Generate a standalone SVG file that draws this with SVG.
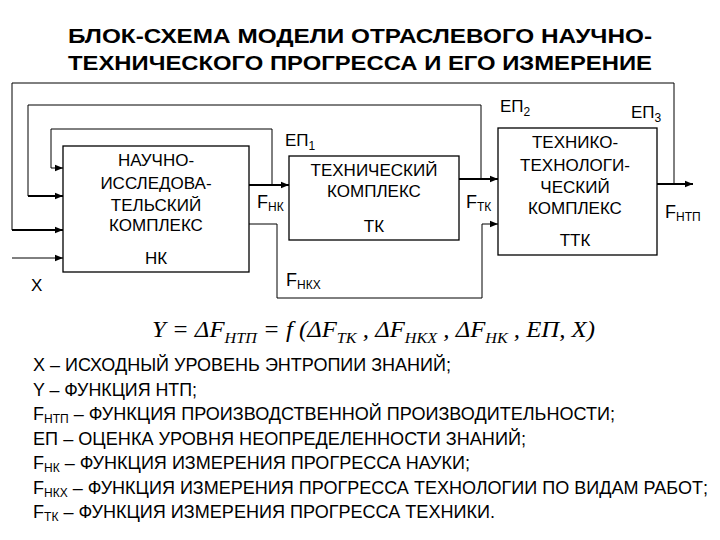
<svg xmlns="http://www.w3.org/2000/svg" width="720" height="540" viewBox="0 0 720 540">
<defs>
<marker id="ah" viewBox="0 0 10 10" refX="10" refY="5" markerWidth="8" markerHeight="8" markerUnits="userSpaceOnUse" orient="auto">
<path d="M0,1 L10,5 L0,9 z" fill="#000"/>
</marker>
<style>
.t{font-family:"Liberation Sans",Arial,sans-serif;fill:#000}
.title{font-size:21px;font-weight:bold}
.box{fill:#fff;stroke:#000;stroke-width:1.3}
.bt{font-size:17px;text-anchor:middle}
.lab{font-size:17px}
.sub{font-size:12px}
.leg{font-size:18px}
.lsub{font-size:12px}
.fm{font-family:"Liberation Serif","Times New Roman",serif;font-style:italic;font-size:23px;fill:#000}
.fs{font-size:15px}
.c1{fill:none;stroke:#000;stroke-width:1}
.c2{fill:none;stroke:#000;stroke-width:2}
</style>
</defs>
<rect width="720" height="540" fill="#fff"/>
<g id="title">
<text class="t title" x="360" y="43" text-anchor="middle" textLength="584" lengthAdjust="spacingAndGlyphs">БЛОК-СХЕМА МОДЕЛИ ОТРАСЛЕВОГО НАУЧНО-</text>
<text class="t title" x="360" y="70" text-anchor="middle" textLength="584" lengthAdjust="spacingAndGlyphs">ТЕХНИЧЕСКОГО ПРОГРЕССА И ЕГО ИЗМЕРЕНИЕ</text>
</g>
<g id="connectors">
<polyline class="c1" points="674,184 674,83 12,83 12,230" />
<line class="c2" x1="12" y1="230" x2="63" y2="230" marker-end="url(#ah)"/>
<polyline class="c1" points="481,179 481,105 28,105 28,196"/>
<line class="c2" x1="28" y1="196" x2="63" y2="196" marker-end="url(#ah)"/>
<polyline class="c1" points="272,185 272,129 51,129 51,168 63,168" marker-end="url(#ah)"/>
<line class="c1" x1="12" y1="258" x2="63" y2="258" marker-end="url(#ah)"/>
<line class="c2" x1="249" y1="185" x2="289" y2="185" marker-end="url(#ah)"/>
<polyline class="c1" points="249,224 277,224 277,298 482,298 482,224 498,224" marker-end="url(#ah)"/>
<line class="c2" x1="459" y1="179" x2="498" y2="179" marker-end="url(#ah)"/>
<line class="c2" x1="657" y1="184" x2="693" y2="184" marker-end="url(#ah)"/>
</g>
<g id="nk">
<rect class="box" x="63" y="146" width="186" height="126"/>
<text class="t bt" x="156" y="166">НАУЧНО-</text>
<text class="t bt" x="156" y="189">ИССЛЕДОВА-</text>
<text class="t bt" x="156" y="211">ТЕЛЬСКИЙ</text>
<text class="t bt" x="156" y="231">КОМПЛЕКС</text>
<text class="t bt" x="156" y="264">НК</text>
</g>
<g id="tk">
<rect class="box" x="289" y="156" width="170" height="84"/>
<text class="t bt" x="374" y="176">ТЕХНИЧЕСКИЙ</text>
<text class="t bt" x="374" y="197">КОМПЛЕКС</text>
<text class="t bt" x="374" y="232">ТК</text>
</g>
<g id="ttk">
<rect class="box" x="498" y="128" width="159" height="127"/>
<text class="t bt" x="575" y="148">ТЕХНИКО-</text>
<text class="t bt" x="575" y="171">ТЕХНОЛОГИ-</text>
<text class="t bt" x="575" y="193">ЧЕСКИЙ</text>
<text class="t bt" x="575" y="214">КОМПЛЕКС</text>
<text class="t bt" x="575" y="246">ТТК</text>
</g>
<g id="labels">
<text class="t lab" x="285" y="146">ЕП<tspan class="sub" dy="4">1</tspan></text>
<text class="t lab" x="500" y="112">ЕП<tspan class="sub" dy="4">2</tspan></text>
<text class="t lab" x="631" y="118">ЕП<tspan class="sub" dy="4">3</tspan></text>
<text class="t lab" x="257" y="208" style="font-size:18px">F<tspan class="sub" dy="3">НК</tspan></text>
<text class="t lab" x="466" y="208" style="font-size:18px">F<tspan class="sub" dy="3">ТК</tspan></text>
<text class="t lab" x="665" y="218" style="font-size:18px">F<tspan class="sub" dy="3">НТП</tspan></text>
<text class="t lab" x="286" y="286" style="font-size:18px">F<tspan class="sub" dy="3">НКХ</tspan></text>
<text class="t lab" x="31" y="291">X</text>
</g>
<g id="formula">
<text class="fm" x="152" y="337" textLength="443" lengthAdjust="spacingAndGlyphs">Y = ΔF<tspan class="fs" dy="6">НТП</tspan><tspan dy="-6"> = f (ΔF</tspan><tspan class="fs" dy="6">ТК</tspan><tspan dy="-6"> , ΔF</tspan><tspan class="fs" dy="6">НКХ</tspan><tspan dy="-6"> , ΔF</tspan><tspan class="fs" dy="6">НК</tspan><tspan dy="-6"> , ЕП, X)</tspan></text>
</g>
<g id="legend">
<text class="t leg" x="33" y="371" textLength="418" lengthAdjust="spacingAndGlyphs">X – ИСХОДНЫЙ УРОВЕНЬ ЭНТРОПИИ ЗНАНИЙ;</text>
<text class="t leg" x="33" y="395.5" textLength="164" lengthAdjust="spacingAndGlyphs">Y – ФУНКЦИЯ НТП;</text>
<text class="t leg" x="33" y="420" textLength="582" lengthAdjust="spacingAndGlyphs">F<tspan class="lsub" dy="3">НТП</tspan><tspan dy="-3"> – ФУНКЦИЯ ПРОИЗВОДСТВЕННОЙ ПРОИЗВОДИТЕЛЬНОСТИ;</tspan></text>
<text class="t leg" x="33" y="444.5" textLength="493" lengthAdjust="spacingAndGlyphs">ЕП – ОЦЕНКА УРОВНЯ НЕОПРЕДЕЛЕННОСТИ ЗНАНИЙ;</text>
<text class="t leg" x="33" y="469" textLength="437" lengthAdjust="spacingAndGlyphs">F<tspan class="lsub" dy="3">НК</tspan><tspan dy="-3"> – ФУНКЦИЯ ИЗМЕРЕНИЯ ПРОГРЕССА НАУКИ;</tspan></text>
<text class="t leg" x="33" y="493.5" textLength="675" lengthAdjust="spacingAndGlyphs">F<tspan class="lsub" dy="3">НКХ</tspan><tspan dy="-3"> – ФУНКЦИЯ ИЗМЕРЕНИЯ ПРОГРЕССА ТЕХНОЛОГИИ ПО ВИДАМ РАБОТ;</tspan></text>
<text class="t leg" x="33" y="518" textLength="462" lengthAdjust="spacingAndGlyphs">F<tspan class="lsub" dy="3">ТК</tspan><tspan dy="-3"> – ФУНКЦИЯ ИЗМЕРЕНИЯ ПРОГРЕССА ТЕХНИКИ.</tspan></text>
</g>
</svg>
